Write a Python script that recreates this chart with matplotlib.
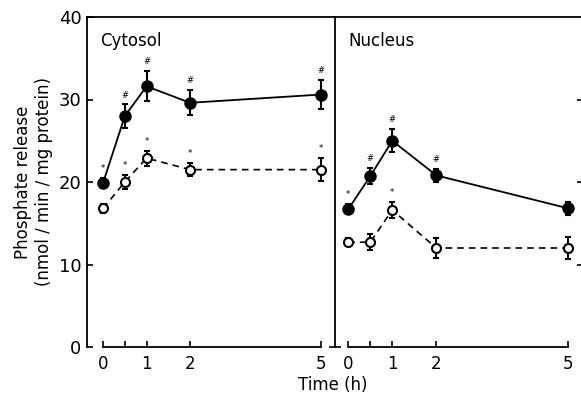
import numpy as np
import matplotlib.pyplot as plt

plt.rcParams['font.family'] = 'DejaVu Sans'

time = [0, 0.5, 1, 2, 5]

# cytosol
cyt_filled = [19.9, 28.0, 31.6, 29.6, 30.6]
cyt_filled_err = [0.6, 1.4, 1.8, 1.5, 1.8]
cyt_open = [16.8, 20.0, 22.9, 21.5, 21.5]
cyt_open_err = [0.5, 0.8, 0.9, 0.8, 1.4]
cyt_filled_marks = ['*', '#', '#', '#', '#']
cyt_open_marks = ['', '*', '*', '*', '*']

# nucleus
nuc_filled = [16.7, 20.7, 25.0, 20.8, 16.8]
nuc_filled_err = [0.6, 1.0, 1.4, 0.8, 0.8]
nuc_open = [12.7, 12.7, 16.6, 12.0, 12.0]
nuc_open_err = [0.5, 1.0, 1.0, 1.2, 1.3]
nuc_filled_marks = ['*', '#', '#', '#', '']
nuc_open_marks = ['', '', '*', '', '']

xticks = [0, 0.5, 1, 2, 5]
xticklabels = ['0', '', '1', '2', '5']
yticks = [0, 10, 20, 30, 40]

fig = plt.figure(figsize=(5.81, 4.03), dpi=100)
ax1 = fig.add_axes([87/581, 56/403, 248/581, 330/403])
ax2 = fig.add_axes([335/581, 56/403, 248/581, 330/403])

panels = [
    (ax1, 'Cytosol', cyt_filled, cyt_filled_err, cyt_open, cyt_open_err,
     cyt_filled_marks, cyt_open_marks),
    (ax2, 'Nucleus', nuc_filled, nuc_filled_err, nuc_open, nuc_open_err,
     nuc_filled_marks, nuc_open_marks),
]

for ax, title, f, fe, o, oe, fm, om in panels:
    ax.errorbar(time, o, yerr=oe, fmt='o', ls='--', color='black', mfc='white',
                mec='black', ms=6.5, mew=1.5, lw=1.2, elinewidth=1.5, capsize=2.5,
                capthick=1.5, dashes=(4, 3))
    ax.errorbar(time, f, yerr=fe, fmt='o', ls='-', color='black', ms=8,
                lw=1.3, elinewidth=1.5, capsize=2.5, capthick=1.5)
    for t, v, e, m in zip(time, f, fe, fm):
        if m:
            ax.text(t, v + e + 0.6, m, ha='center', va='bottom', fontsize=6)
    for t, v, e, m in zip(time, o, oe, om):
        if m:
            ax.text(t, v + e + 0.6, m, ha='center', va='bottom', fontsize=6)
    ax.set_xlim(-0.37, 5.33)
    ax.set_ylim(0, 40)
    ax.set_xticks(xticks)
    ax.set_xticklabels(xticklabels)
    ax.spines['bottom'].set_bounds(0, 5)
    ax.spines['right'].set_visible(False)
    ax.tick_params(direction='in', length=4, width=1.2, labelsize=12, pad=6)
    ax.text(0.053, 0.955, title, transform=ax.transAxes, fontsize=12,
            ha='left', va='top')
    for s in ax.spines.values():
        s.set_linewidth(1.3)

ax1.set_yticks(yticks)
ax1.tick_params(axis='y', labelsize=13, pad=4)
ax1.set_ylabel('Phosphate release\n(nmol / min / mg protein)', fontsize=12,
               labelpad=4)

ax2.set_xlim(-0.3, 5.33)
ax2.set_yticks([0])
ax2.tick_params(axis='y', labelleft=False, direction='inout', length=8)

ax2r = ax2.twinx()
ax2r.set_ylim(0, 40)
ax2r.set_yticks([10, 20, 30])
ax2r.tick_params(axis='y', labelright=False, direction='in', length=4, width=1.2)
for s in ax2r.spines.values():
    s.set_visible(False)

fig.text(333/581, 1 - 385/403, 'Time (h)', ha='center', va='center', fontsize=12)

fig.savefig('out.png', dpi=100)
